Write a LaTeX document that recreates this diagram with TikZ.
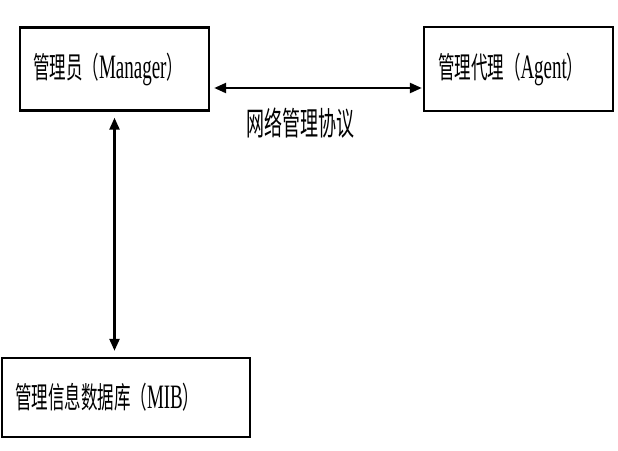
\documentclass[tikz,border=0pt]{standalone}
\usepackage{fontspec}
\setmainfont{Liberation Serif}
\newfontfamily\cjk{Noto Sans CJK SC}
\usepackage{graphicx}
\usetikzlibrary{arrows.meta}
\newcommand\tallt[1]{\scalebox{1}[1.8]{#1}}
\newcommand\lat[1]{{\fontsize{19}{20}\selectfont #1}}
\begin{document}
\begin{tikzpicture}[x=1pt,y=-1pt,
  box/.style={draw, line width=2.4pt, inner xsep=13pt, inner ysep=0pt, align=left,
    font=\fontsize{16.5}{20}\selectfont},
  lbl/.style={inner sep=0pt, font=\fontsize{18}{20}\selectfont},
  link/.style={line width=2.4pt, {Triangle[length=12pt,width=10pt]}-{Triangle[length=12pt,width=10pt]}}]
\useasboundingbox (0,0) rectangle (618,450);
\node[box, text width=163pt, minimum height=83pt] (mgr) at (114.5,69)
  {\tallt{{\cjk 管理员（}\lat{Manager}{\cjk ）}}};
\node[box, text width=161pt, minimum height=84pt, inner xsep=14pt] (agt) at (518.5,69)
  {\tallt{{\cjk 管理代理（}\lat{Agent}{\cjk ）}}};
\node[box, text width=222pt, minimum height=79pt] (mib) at (126,397.5)
  {\tallt{{\cjk 管理信息数据库（}\lat{MIB}{\cjk ）}}};
\node[lbl] (proto) at (300,123) {\tallt{\cjk 网络管理协议}};
\draw[link, shorten <=4pt, shorten >=1pt] ([shift={(0,19)}]mgr.east) -- ([shift={(0,19)}]agt.west);
\draw[link, shorten <=6pt, shorten >=6pt] (mgr.south) -- (mgr.south |- mib.north);
\end{tikzpicture}
\end{document}
